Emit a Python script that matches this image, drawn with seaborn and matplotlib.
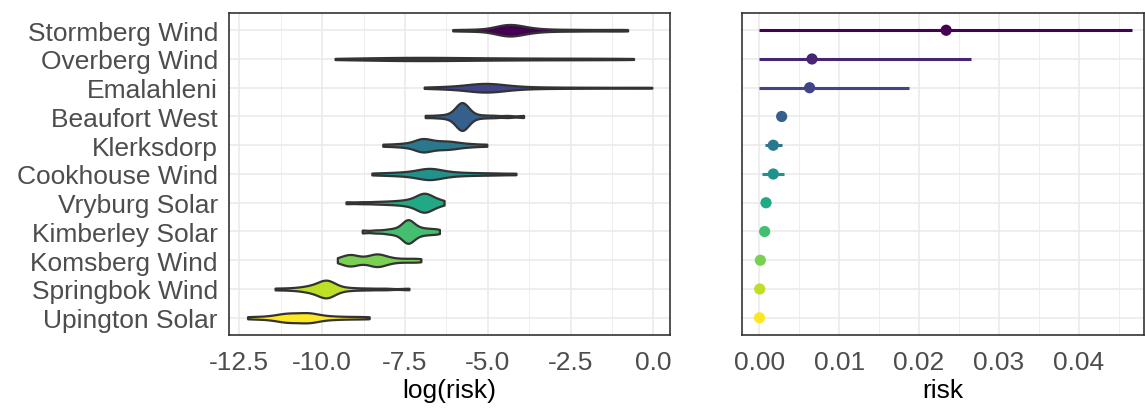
import numpy as np
import pandas as pd
import matplotlib
matplotlib.use("Agg")
import matplotlib.pyplot as plt
from matplotlib.ticker import MultipleLocator
import seaborn as sns

# sites, top to bottom
sites = ["Stormberg Wind", "Overberg Wind", "Emalahleni", "Beaufort West",
         "Klerksdorp", "Cookhouse Wind", "Vryburg Solar", "Kimberley Solar",
         "Komsberg Wind", "Springbok Wind", "Upington Solar"]

# log(risk) draws per site
stormberg = [-6.06, -5.6, -5.25, -4.9, -4.75, -4.65, -4.55, -4.5, -4.45, -4.42, -4.38, -4.35, -4.3,
             -4.25, -4.2, -4.12, -4.05, -3.95, -3.85, -3.75, -3.55, -3.3, -3.0, -2.6, -2.2, -1.7, -1.2, -0.78]
overberg = [-9.61, -9.0, -8.5, -8.1, -7.8, -7.5, -7.2, -6.9, -6.6, -6.3, -6.0, -5.6, -5.2, -4.8,
            -4.3, -3.8, -3.2, -2.6, -2.0, -1.3, -0.6]
emalahleni = [-6.92, -6.5, -6.2, -5.95, -5.75, -5.6, -5.5, -5.4, -5.3, -5.22, -5.15, -5.1, -5.05, -5.0,
              -4.95, -4.88, -4.8, -4.7, -4.6, -4.45, -4.3, -4.1, -3.8, -3.4, -2.9, -2.3, -1.6, -0.8, -0.05]
beaufort = [-6.89, -6.55, -6.3, -6.12, -6.0, -5.95, -5.9, -5.87, -5.84, -5.82, -5.8, -5.79, -5.78,
            -5.76, -5.74, -5.72, -5.7, -5.67, -5.64, -5.6, -5.5, -5.35, -5.1, -4.8, -4.4, -3.92]
klerksdorp = [-8.17, -7.8, -7.55, -7.35, -7.2, -7.1, -7.04, -7.0, -6.96, -6.92, -6.86, -6.78, -6.7,
              -6.6, -6.5, -6.4, -6.3, -6.2, -6.1, -6.0, -5.85, -5.65, -5.4, -5.03]
cookhouse = [-8.5, -8.1, -7.8, -7.55, -7.35, -7.2, -7.05, -6.95, -6.88, -6.82, -6.77, -6.72, -6.66,
             -6.58, -6.48, -6.36, -6.2, -6.0, -5.75, -5.45, -5.1, -4.7, -4.15]
vryburg = [-9.28, -8.8, -8.4, -8.1, -7.85, -7.65, -7.48, -7.35, -7.24, -7.15, -7.08, -7.02, -6.97,
           -6.95, -6.93, -6.91, -6.89, -6.85, -6.8, -6.74, -6.67, -6.58, -6.47, -6.32]
kimberley = [-8.79, -8.4, -8.1, -7.9, -7.75, -7.62, -7.54, -7.48, -7.45, -7.43, -7.41, -7.39, -7.36,
             -7.32, -7.26, -7.18, -7.08, -6.95, -6.8, -6.64, -6.46]
komsberg = [-9.54, -9.38, -9.28, -9.2, -9.15, -9.1, -9.02, -8.9, -8.75, -8.6, -8.5, -8.42, -8.37,
            -8.32, -8.26, -8.18, -8.08, -7.95, -7.75, -7.5, -7.25, -7.02]
springbok = [-11.42, -11.0, -10.7, -10.5, -10.38, -10.28, -10.18, -10.08, -10.0, -9.95, -9.92, -9.9,
             -9.88, -9.86, -9.84, -9.82, -9.79, -9.74, -9.65, -9.5, -9.3, -9.0, -8.6, -8.1, -7.38]
upington = [-12.25, -11.9, -11.6, -11.4, -11.25, -11.15, -11.08, -11.0, -10.9, -10.8, -10.7, -10.6,
            -10.5, -10.43, -10.37, -10.3, -10.2, -10.05, -9.85, -9.6, -9.3, -8.95, -8.58]
draws = [stormberg, overberg, emalahleni, beaufort, klerksdorp, cookhouse,
         vryburg, kimberley, komsberg, springbok, upington]

# risk point estimate and interval per site
risk_mid = [0.0234, 0.0066, 0.0063, 0.0028, 0.00175, 0.00175, 0.00084, 0.00067, 0.00013, 0.00005, 0.00002]
risk_lo = [0.0, 0.0, 0.0, 0.0022, 0.0007, 0.0003, 0.0006, 0.0005, 0.0001, 0.00003, 0.00001]
risk_hi = [0.0467, 0.0265, 0.01875, 0.0034, 0.0028, 0.0031, 0.0011, 0.0009, 0.0002, 0.00007, 0.00003]

long_df = pd.DataFrame([(s, v) for s, d in zip(sites, draws) for v in d],
                       columns=["site", "logrisk"])
pt_df = pd.DataFrame({"site": sites, "risk": risk_mid, "lo": risk_lo, "hi": risk_hi})

pal = [matplotlib.colormaps["viridis"](t) for t in np.linspace(0, 1, len(sites))]
sns.set_theme(style="white")
plt.rcParams["font.family"] = ["Liberation Sans", "DejaVu Sans"]

fig = plt.figure(figsize=(11.45, 4.1), dpi=100)
ax1 = fig.add_axes([0.2, 0.1805, 0.3852, 0.7854])
ax2 = fig.add_axes([0.6478, 0.1805, 0.3515, 0.7854])

# no hue here so every violin shares one area scale; colour them afterwards
sns.violinplot(data=long_df, x="logrisk", y="site", order=sites, color="grey",
               cut=0, inner=None, density_norm="area", bw_adjust=0.5,
               width=0.97, linewidth=1.6, linecolor="#333333", ax=ax1)
for coll, c in zip(ax1.collections, pal):
    coll.set_facecolor(c)

for i, r in pt_df.iterrows():
    ax2.hlines(i, r["lo"], r["hi"], color=pal[i], lw=2.2, zorder=3)
sns.scatterplot(data=pt_df, x="risk", y="site", hue="site", palette=pal,
                s=65, edgecolor="none", legend=False, ax=ax2, zorder=4)

grid_col = "#ebebeb"
for ax in (ax1, ax2):
    ax.set_ylim(len(sites) - 0.4, -0.6)
    ax.set_axisbelow(True)
    ax.grid(which="major", color=grid_col, lw=1.2)
    ax.grid(which="minor", axis="x", color=grid_col, lw=0.6)
    for sp in ax.spines.values():
        sp.set_color("#333333")
        sp.set_linewidth(1.2)
    ax.tick_params(axis="both", which="major", length=5, width=1.2, color="#333333",
                   labelsize=19, labelcolor="#4d4d4d", pad=3)
    ax.tick_params(axis="x", pad=6)
    ax.tick_params(which="minor", length=0)
    ax.set_ylabel("")

ax1.set_xlim(-12.81, 0.5)
ax1.xaxis.set_major_locator(MultipleLocator(2.5))
ax1.xaxis.set_minor_locator(MultipleLocator(1.25))
ax1.set_xticks([-12.5, -10, -7.5, -5, -2.5, 0])
ax1.set_xticklabels(["-12.5", "-10.0", "-7.5", "-5.0", "-2.5", "0.0"])
ax1.set_xlabel("log(risk)", fontsize=19, color="black", labelpad=3)

ax2.set_xlim(-0.0022, 0.0482)
ax2.xaxis.set_major_locator(MultipleLocator(0.01))
ax2.xaxis.set_minor_locator(MultipleLocator(0.005))
ax2.set_xticks([0, 0.01, 0.02, 0.03, 0.04])
ax2.set_xticklabels(["0.00", "0.01", "0.02", "0.03", "0.04"])
ax2.set_yticklabels([])
ax2.set_xlabel("risk", fontsize=19, color="black", labelpad=3)

fig.savefig("out.png", dpi=100)
